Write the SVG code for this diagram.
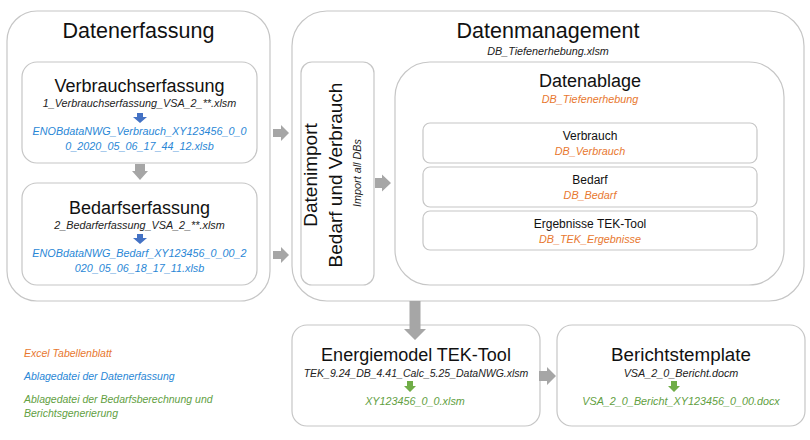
<svg xmlns="http://www.w3.org/2000/svg" width="810" height="440" viewBox="0 0 810 440">
<style>
text{font-family:"Liberation Sans",Arial,sans-serif;text-anchor:middle;fill:#111}
.box{fill:#fff;stroke:#c6c6c6;stroke-width:1.2}
.h1{font-size:21.5px}
.h2{font-size:18px}
.h3{font-size:12px}
.it{font-style:italic;font-size:10.8px;fill:#222}
.blue{fill:#2a87d6}
.orange{fill:#e8782f}
.green{fill:#62a03f}
.gray{fill:#a6a6a6}
.ab{fill:#4472c4}
.ag{fill:#70ad47}
.leg{text-anchor:start;font-style:italic;font-size:10.5px}
</style>
<rect width="810" height="440" fill="#fff"/>

<g id="datenerfassung">
<rect class="box" x="7" y="11" width="263" height="290" rx="30"/>
<text class="h1" x="138.5" y="38">Datenerfassung</text>
</g>

<g id="verbrauchserfassung">
<rect class="box" x="22" y="62" width="235" height="101" rx="15"/>
<text class="h2" x="139.5" y="92">Verbrauchserfassung</text>
<text class="it" x="139.5" y="107">1_Verbrauchserfassung_VSA_2_**.xlsm</text>
<polygon class="ab" points="137,113 143,113 143,117 147,117 140,123 133,117 137,117"/>
<text class="it blue" x="139.5" y="135">ENOBdataNWG_Verbrauch_XY123456_0_0</text>
<text class="it blue" x="139.5" y="150">0_2020_05_06_17_44_12.xlsb</text>
</g>

<g id="bedarfserfassung">
<rect class="box" x="22" y="183" width="235" height="102" rx="15"/>
<text class="h2" x="139.5" y="214">Bedarfserfassung</text>
<text class="it" x="139.5" y="229">2_Bedarferfassung_VSA_2_**.xlsm</text>
<polygon class="ab" points="137,234 143,234 143,238 147,238 140,244 133,238 137,238"/>
<text class="it blue" x="139.5" y="257">ENOBdataNWG_Bedarf_XY123456_0_00_2</text>
<text class="it blue" x="139.5" y="272">020_05_06_18_17_11.xlsb</text>
</g>

<g id="datenmanagement">
<rect class="box" x="292" y="11" width="512" height="290" rx="35"/>
<text class="h1" x="548" y="38">Datenmanagement</text>
<text class="it" x="548" y="55">DB_Tiefenerhebung.xlsm</text>
</g>

<g id="datenimport">
<rect class="box" x="301" y="62" width="73" height="223" rx="11"/>
<text style="font-size:19px" transform="translate(317,175) rotate(-90)">Datenimport</text>
<text style="font-size:19px" transform="translate(342,175) rotate(-90)">Bedarf und Verbrauch</text>
<text class="it" transform="translate(361,173) rotate(-90)">Import all DBs</text>
</g>

<g id="datenablage">
<rect class="box" x="395" y="62" width="389" height="223" rx="35"/>
<text class="h2" x="590" y="87">Datenablage</text>
<text class="it orange" x="590" y="103">DB_Tiefenerhebung</text>
</g>

<g id="verbrauch">
<rect class="box" x="423" y="123" width="334" height="40" rx="7"/>
<text class="h3" x="590" y="140">Verbrauch</text>
<text class="it orange" x="590" y="155">DB_Verbrauch</text>
</g>

<g id="bedarf">
<rect class="box" x="423" y="167" width="334" height="40" rx="7"/>
<text class="h3" x="590" y="184">Bedarf</text>
<text class="it orange" x="590" y="199">DB_Bedarf</text>
</g>

<g id="ergebnisse">
<rect class="box" x="423" y="211" width="334" height="39" rx="7"/>
<text class="h3" x="590" y="228">Ergebnisse TEK-Tool</text>
<text class="it orange" x="590" y="243">DB_TEK_Ergebnisse</text>
</g>

<g id="energiemodel">
<rect class="box" x="292" y="325" width="248" height="101" rx="15"/>
<text class="h2" x="416" y="361">Energiemodel TEK-Tool</text>
<text class="it" style="font-size:10.5px" x="416" y="377">TEK_9.24_DB_4.41_Calc_5.25_DataNWG.xlsm</text>
<polygon class="ag" points="407,381 413,381 413,386 416,386 410,392 404,386 407,386"/>
<text class="it green" x="415" y="405">XY123456_0_0.xlsm</text>
</g>

<g id="berichtstemplate">
<rect class="box" x="557" y="325" width="248" height="101" rx="15"/>
<text class="h2" style="font-size:18.8px" x="681" y="361">Berichtstemplate</text>
<text class="it" x="681" y="377">VSA_2_0_Bericht.docm</text>
<polygon class="ag" points="671,381 677,381 677,386 680,386 674,392 668,386 671,386"/>
<text class="it green" x="681" y="405">VSA_2_0_Bericht_XY123456_0_00.docx</text>
</g>

<g id="connectors">
<polygon class="gray" points="135,164 145,164 145,171 148,171 140,180 132,171 135,171"/>
<polygon class="gray" points="273,129 281,129 281,125 289,133 281,141 281,137 273,137"/>
<polygon class="gray" points="273,251 281,251 281,247 289,255 281,263 281,259 273,259"/>
<polygon class="gray" points="375,178 382,178 382,174.5 391,183 382,191.5 382,188 375,188"/>
<polygon class="gray" points="409.5,301 420.5,301 420.5,329 426,329 415,340 404,329 409.5,329"/>
<polygon class="gray" points="539,371 547,371 547,367 556,376 547,385 547,381 539,381"/>
</g>

<g id="legend">
<text class="leg orange" x="24" y="357">Excel Tabellenblatt</text>
<text class="leg blue" x="24" y="380">Ablagedatei der Datenerfassung</text>
<text class="leg green" x="24" y="403">Ablagedatei der Bedarfsberechnung und</text>
<text class="leg green" x="24" y="417">Berichtsgenerierung</text>
</g>
</svg>
